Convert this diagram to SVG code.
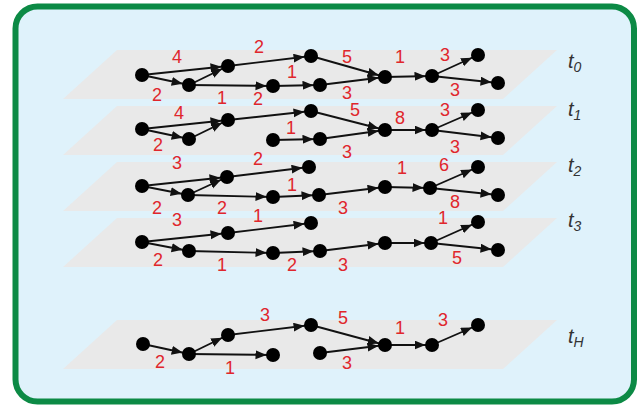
<svg xmlns="http://www.w3.org/2000/svg" width="641" height="405" viewBox="0 0 641 405">
<style>
.plane{fill:#e9e9e9;stroke:none}
.e{stroke:#111;stroke-width:1.9;fill:none;marker-end:url(#ah)}
.n{fill:#000}
.w{font-family:"Liberation Sans",Arial,sans-serif;font-size:18px;fill:#e0262c;text-anchor:middle}
.t{font-family:"Liberation Sans",Arial,sans-serif;font-size:20px;font-style:italic;fill:#333}
.s{font-size:14px}
</style>
<defs>
<marker id="ah" markerUnits="userSpaceOnUse" markerWidth="24" markerHeight="12" refX="17.5" refY="4.5" orient="auto">
<path d="M0,0 L11,4.5 L0,9 z" fill="#111"/>
</marker>
</defs>
<rect x="15.5" y="6.5" width="618.5" height="395" rx="22" fill="#dff2fb" stroke="#0c8a45" stroke-width="6"/>
<g id="planes">
<polygon class="plane" points="117,50 557,50 503,99 63,99"/>
<polygon class="plane" points="117,106 557,106 503,155 63,155"/>
<polygon class="plane" points="117,162 557,162 503,211 63,211"/>
<polygon class="plane" points="117,218 557,218 503,267 63,267"/>
<polygon class="plane" points="117,320 557,320 503,369 63,369"/>
</g>
<g id="connectors">
<!-- t0 -->
<line class="e" x1="142" y1="75" x2="228" y2="66"/>
<line class="e" x1="142" y1="75" x2="189" y2="85"/>
<line class="e" x1="189" y1="85" x2="228" y2="66"/>
<line class="e" x1="189" y1="85" x2="273" y2="86"/>
<line class="e" x1="228" y1="66" x2="311" y2="56"/>
<line class="e" x1="273" y1="86" x2="320" y2="85"/>
<line class="e" x1="311" y1="56" x2="385" y2="77"/>
<line class="e" x1="320" y1="85" x2="385" y2="77"/>
<line class="e" x1="385" y1="77" x2="432" y2="76"/>
<line class="e" x1="432" y1="76" x2="478" y2="55"/>
<line class="e" x1="432" y1="76" x2="498" y2="83"/>
<!-- t1 -->
<line class="e" x1="142" y1="129" x2="228" y2="120"/>
<line class="e" x1="142" y1="129" x2="189" y2="139"/>
<line class="e" x1="189" y1="139" x2="228" y2="120"/>
<line class="e" x1="228" y1="120" x2="311" y2="111"/>
<line class="e" x1="273" y1="140" x2="320" y2="139"/>
<line class="e" x1="311" y1="111" x2="385" y2="130"/>
<line class="e" x1="320" y1="139" x2="385" y2="130"/>
<line class="e" x1="385" y1="130" x2="432" y2="130"/>
<line class="e" x1="432" y1="130" x2="478" y2="110"/>
<line class="e" x1="432" y1="130" x2="498" y2="138"/>
<!-- t2 -->
<line class="e" x1="142" y1="186" x2="227" y2="177"/>
<line class="e" x1="142" y1="186" x2="188" y2="195"/>
<line class="e" x1="188" y1="195" x2="227" y2="177"/>
<line class="e" x1="227" y1="177" x2="309" y2="167"/>
<line class="e" x1="188" y1="195" x2="273" y2="197"/>
<line class="e" x1="273" y1="197" x2="319" y2="195"/>
<line class="e" x1="319" y1="195" x2="385" y2="187"/>
<line class="e" x1="385" y1="187" x2="430" y2="188"/>
<line class="e" x1="430" y1="188" x2="478" y2="167"/>
<line class="e" x1="430" y1="188" x2="498" y2="195"/>
<!-- t3 -->
<line class="e" x1="142" y1="242" x2="228" y2="233"/>
<line class="e" x1="142" y1="242" x2="189" y2="251"/>
<line class="e" x1="228" y1="233" x2="311" y2="223"/>
<line class="e" x1="189" y1="251" x2="273" y2="253"/>
<line class="e" x1="273" y1="253" x2="320" y2="251"/>
<line class="e" x1="320" y1="251" x2="385" y2="243"/>
<line class="e" x1="385" y1="243" x2="431" y2="243"/>
<line class="e" x1="431" y1="243" x2="478" y2="222"/>
<line class="e" x1="431" y1="243" x2="498" y2="250"/>
<!-- tH -->
<line class="e" x1="143" y1="344" x2="189" y2="354"/>
<line class="e" x1="189" y1="354" x2="228" y2="335"/>
<line class="e" x1="189" y1="354" x2="273" y2="355"/>
<line class="e" x1="228" y1="335" x2="311" y2="325"/>
<line class="e" x1="311" y1="325" x2="385" y2="345"/>
<line class="e" x1="320" y1="353" x2="385" y2="345"/>
<line class="e" x1="385" y1="345" x2="432" y2="345"/>
<line class="e" x1="432" y1="345" x2="478" y2="325"/>
</g>
<g id="nodes-t0">
<circle class="n" cx="142" cy="75" r="7"/><circle class="n" cx="189" cy="85" r="7"/><circle class="n" cx="228" cy="66" r="7"/><circle class="n" cx="311" cy="56" r="7"/><circle class="n" cx="273" cy="86" r="7"/><circle class="n" cx="320" cy="85" r="7"/><circle class="n" cx="385" cy="77" r="7"/><circle class="n" cx="432" cy="76" r="7"/><circle class="n" cx="478" cy="55" r="7"/><circle class="n" cx="498" cy="83" r="7"/>
</g>
<g id="nodes-t1">
<circle class="n" cx="142" cy="129" r="7"/><circle class="n" cx="189" cy="139" r="7"/><circle class="n" cx="228" cy="120" r="7"/><circle class="n" cx="311" cy="111" r="7"/><circle class="n" cx="273" cy="140" r="7"/><circle class="n" cx="320" cy="139" r="7"/><circle class="n" cx="385" cy="130" r="7"/><circle class="n" cx="432" cy="130" r="7"/><circle class="n" cx="478" cy="110" r="7"/><circle class="n" cx="498" cy="138" r="7"/>
</g>
<g id="nodes-t2">
<circle class="n" cx="142" cy="186" r="7"/><circle class="n" cx="188" cy="195" r="7"/><circle class="n" cx="227" cy="177" r="7"/><circle class="n" cx="309" cy="167" r="7"/><circle class="n" cx="273" cy="197" r="7"/><circle class="n" cx="319" cy="195" r="7"/><circle class="n" cx="385" cy="187" r="7"/><circle class="n" cx="430" cy="188" r="7"/><circle class="n" cx="478" cy="167" r="7"/><circle class="n" cx="498" cy="195" r="7"/>
</g>
<g id="nodes-t3">
<circle class="n" cx="142" cy="242" r="7"/><circle class="n" cx="189" cy="251" r="7"/><circle class="n" cx="228" cy="233" r="7"/><circle class="n" cx="311" cy="223" r="7"/><circle class="n" cx="273" cy="253" r="7"/><circle class="n" cx="320" cy="251" r="7"/><circle class="n" cx="385" cy="243" r="7"/><circle class="n" cx="431" cy="243" r="7"/><circle class="n" cx="478" cy="222" r="7"/><circle class="n" cx="498" cy="250" r="7"/>
</g>
<g id="nodes-tH">
<circle class="n" cx="143" cy="344" r="7"/><circle class="n" cx="189" cy="354" r="7"/><circle class="n" cx="228" cy="335" r="7"/><circle class="n" cx="311" cy="325" r="7"/><circle class="n" cx="273" cy="355" r="7"/><circle class="n" cx="320" cy="353" r="7"/><circle class="n" cx="385" cy="345" r="7"/><circle class="n" cx="432" cy="345" r="7"/><circle class="n" cx="478" cy="325" r="7"/>
</g>
<g id="weights">
<text class="w" x="177" y="63">4</text><text class="w" x="157" y="101">2</text><text class="w" x="259" y="53">2</text><text class="w" x="222" y="104">1</text><text class="w" x="292" y="78">1</text><text class="w" x="347" y="63">5</text><text class="w" x="347" y="99">3</text><text class="w" x="400" y="63">1</text><text class="w" x="445" y="61">3</text><text class="w" x="455" y="96">3</text>
<text class="w" x="179" y="119">4</text><text class="w" x="158" y="151">2</text><text class="w" x="258" y="105">2</text><text class="w" x="291" y="134">1</text><text class="w" x="355" y="116">5</text><text class="w" x="347" y="158">3</text><text class="w" x="400" y="124">8</text><text class="w" x="445" y="116">3</text><text class="w" x="455" y="153">3</text>
<text class="w" x="177" y="169">3</text><text class="w" x="157" y="214">2</text><text class="w" x="258" y="165">2</text><text class="w" x="222" y="214">2</text><text class="w" x="292" y="191">1</text><text class="w" x="343" y="214">3</text><text class="w" x="402" y="174">1</text><text class="w" x="444" y="171">6</text><text class="w" x="455" y="208">8</text>
<text class="w" x="177" y="226">3</text><text class="w" x="158" y="266">2</text><text class="w" x="258" y="222">1</text><text class="w" x="222" y="271">1</text><text class="w" x="292" y="271">2</text><text class="w" x="343" y="271">3</text><text class="w" x="443" y="224">1</text><text class="w" x="457" y="264">5</text>
<text class="w" x="160" y="368">2</text><text class="w" x="230" y="374">1</text><text class="w" x="265" y="321">3</text><text class="w" x="343" y="324">5</text><text class="w" x="347" y="369">3</text><text class="w" x="400" y="334">1</text><text class="w" x="443" y="326">3</text>
</g>
<g id="time-labels">
<text class="t" x="568" y="68">t<tspan class="s" dy="4">0</tspan></text>
<text class="t" x="568" y="116">t<tspan class="s" dy="4">1</tspan></text>
<text class="t" x="568" y="172">t<tspan class="s" dy="4">2</tspan></text>
<text class="t" x="568" y="227">t<tspan class="s" dy="4">3</tspan></text>
<text class="t" x="568" y="343">t<tspan class="s" dy="4">H</tspan></text>
</g>
</svg>
